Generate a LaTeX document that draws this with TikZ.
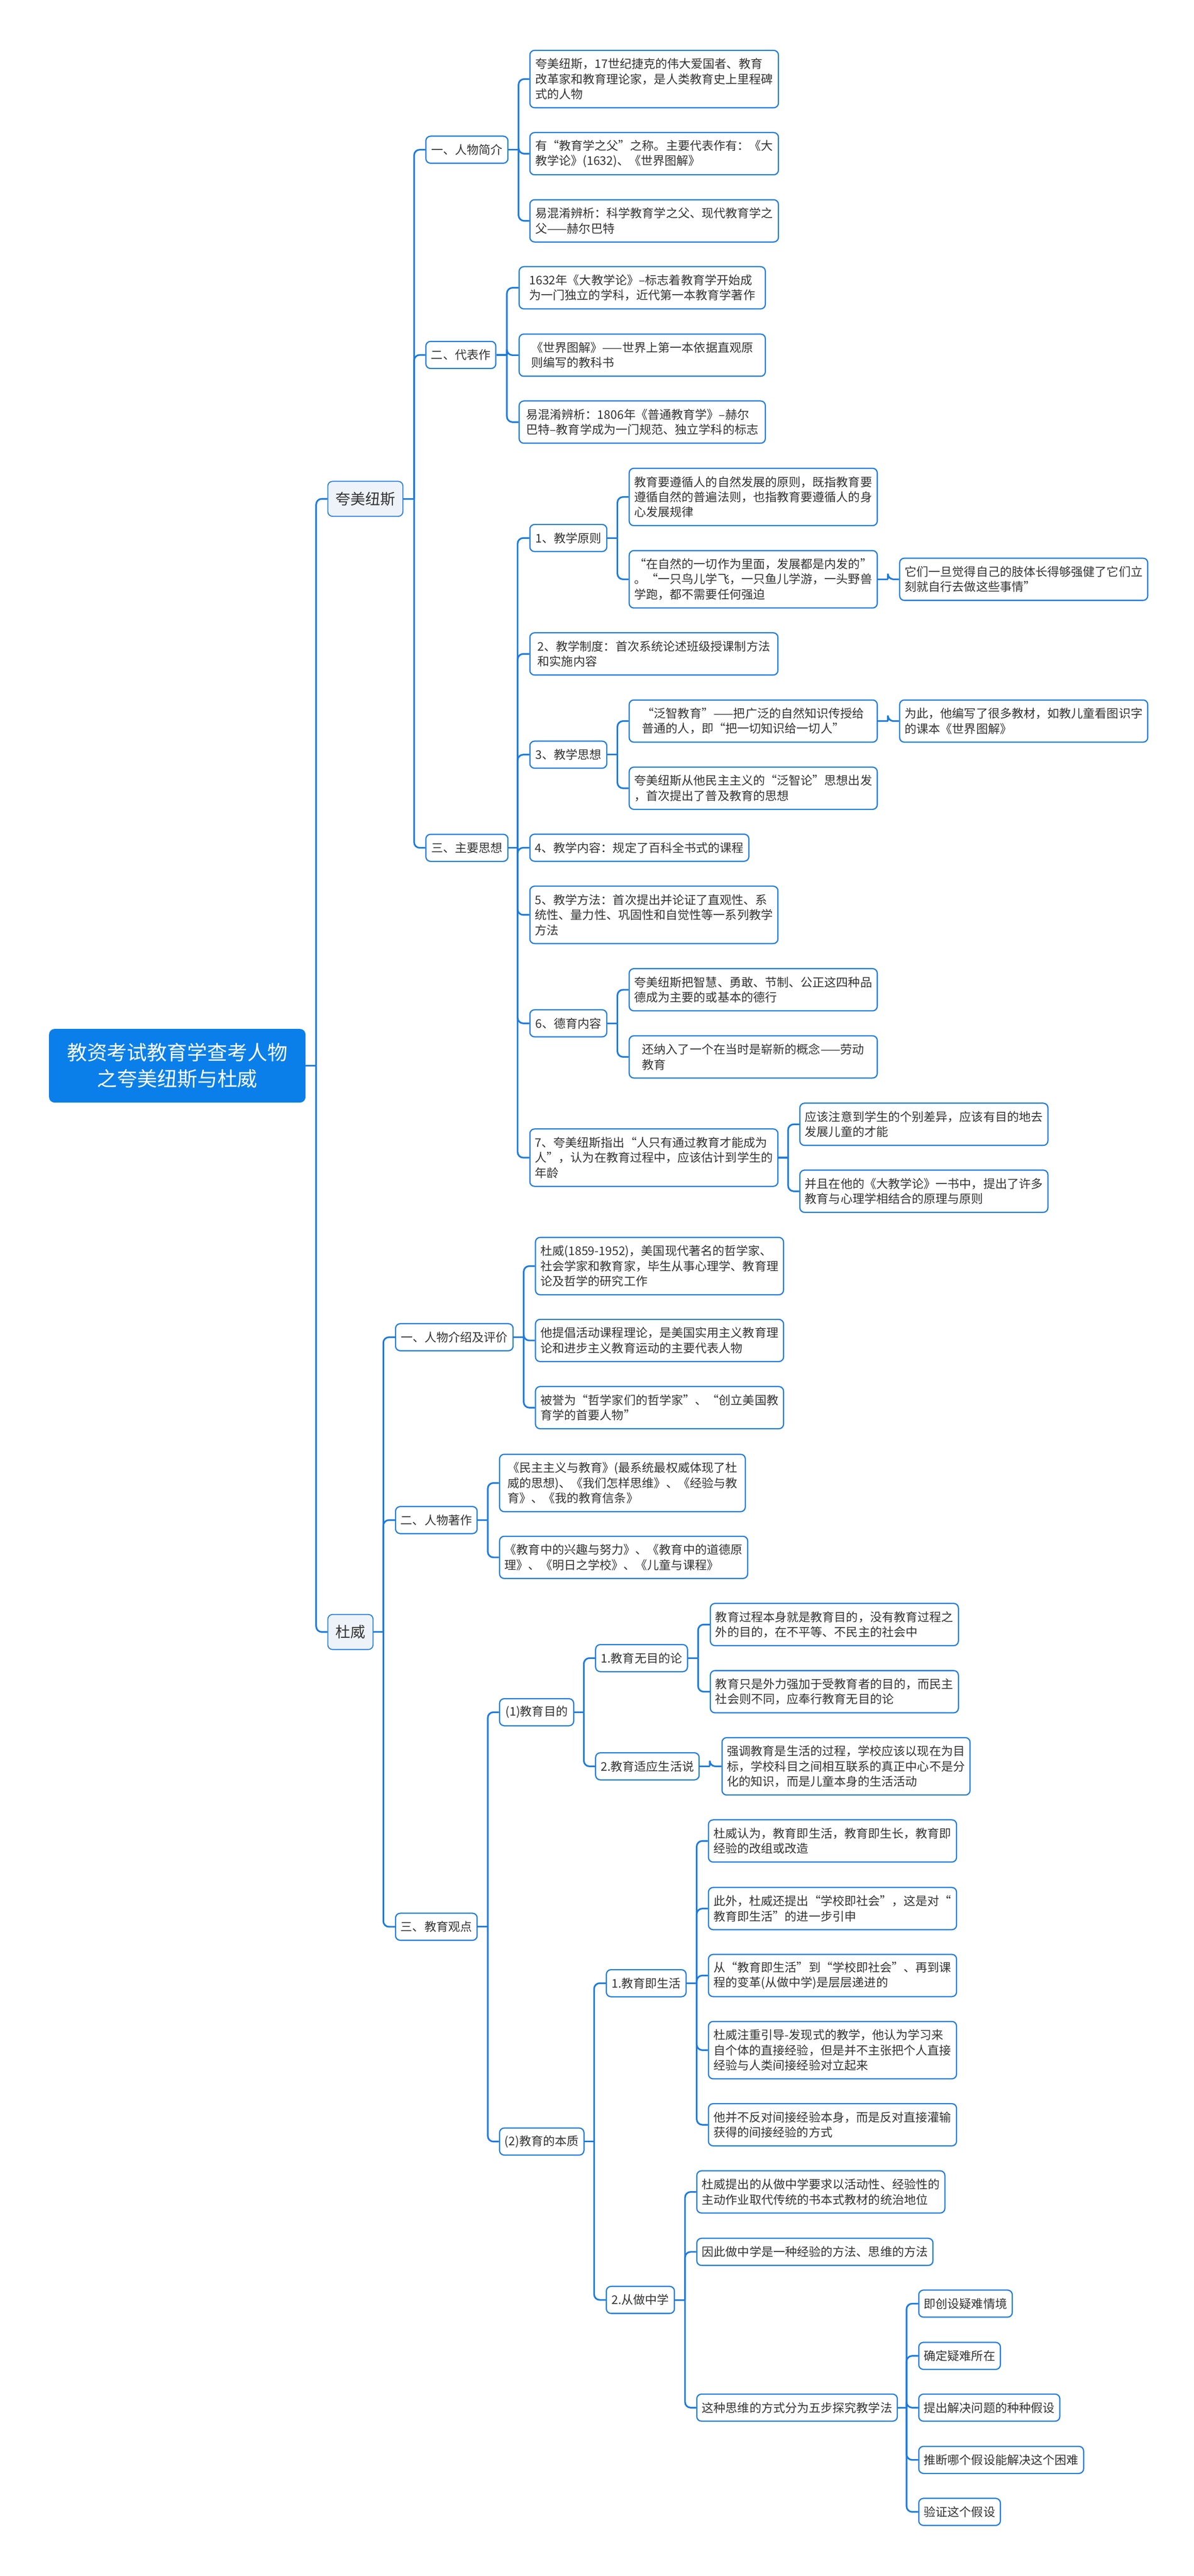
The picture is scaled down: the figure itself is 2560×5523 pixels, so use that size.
\documentclass[tikz,border=0pt]{standalone}
\usepackage{fontspec}
\setmainfont{Noto Sans CJK SC}
\usetikzlibrary{calc}
\definecolor{mblue}{HTML}{1C7BE0}
\definecolor{rootblue}{HTML}{0A7FE9}
\definecolor{lightfill}{HTML}{EEF3F9}
\definecolor{txt}{HTML}{333333}
\newcommand\mmconn[3]{%
  \coordinate (mmv) at (#3,0);
  \draw[conn] (#1.east) -- (#1.east -| mmv);
  \draw[conn,rounded corners=12pt] (#1.east -| mmv) |- (#2.west);}
\begin{document}
\begin{tikzpicture}[x=1pt,y=-1pt,
  box/.style={draw=mblue, line width=2.5pt, rounded corners=10pt, fill=white, align=left,
    inner xsep=11pt, inner ysep=0pt, text=txt, font=\fontsize{25.5pt}{32.5pt}\selectfont, anchor=west},
  h1/.style={minimum height=58pt},
  h2/.style={minimum height=90.5pt},
  h3/.style={minimum height=123pt},
  mainbox/.style={draw=mblue, line width=2pt, rounded corners=10pt, fill=lightfill, text=txt,
    font=\fontsize{32pt}{40pt}\selectfont, minimum height=75pt, inner xsep=14pt, anchor=west},
  rootbox/.style={fill=rootblue, rounded corners=12pt, text=white, align=center,
    font=\fontsize{43pt}{56pt}\selectfont, minimum width=550pt, minimum height=158pt, anchor=west},
  conn/.style={draw=mblue, line width=3.5pt},
]
\useasboundingbox[fill=white] (0,0) rectangle (2560,5523);

% root and main branches
\node[rootbox] (root) at (105,2285) {教资考试教育学查考人物\\之夸美纽斯与杜威};
\node[mainbox, minimum width=161pt] (km) at (702,1069.5) {夸美纽斯};
\node[mainbox, minimum width=97pt] (dw) at (702,3499) {杜威};

% Comenius
\node[box,h1,minimum width=176pt] (k1) at (912,321) {一、人物简介};
\node[box,h3,minimum width=533pt] (k11) at (1135,169.5) {夸美纽斯，17世纪捷克的伟大爱国者、教育\\改革家和教育理论家，是人类教育史上里程碑\\式的人物};
\node[box,h2,minimum width=533pt] (k12) at (1135,329.5) {有“教育学之父”之称。主要代表作有：《大\\教学论》(1632)、《世界图解》};
\node[box,h2,minimum width=533pt] (k13) at (1135,473.5) {易混淆辨析：科学教育学之父、现代教育学之\\父——赫尔巴特};

\node[box,h1,minimum width=150pt] (k2) at (912,761) {二、代表作};
\node[box,h2,minimum width=528pt] (k21) at (1112,617) {1632年《大教学论》--标志着教育学开始成\\为一门独立的学科，近代第一本教育学著作};
\node[box,h2,minimum width=528pt] (k22) at (1112,761.5) {《世界图解》——世界上第一本依据直观原\\则编写的教科书};
\node[box,h2,minimum width=528pt] (k23) at (1112,905) {易混淆辨析：1806年《普通教育学》--赫尔\\巴特--教育学成为一门规范、独立学科的标志};

\node[box,h1,minimum width=176pt] (k3) at (912,1817.75) {三、主要思想};
\node[box,h1,minimum width=165pt] (k31) at (1135,1153.5) {1、教学原则};
\node[box,h3,minimum width=532pt] (k311) at (1348,1065.5) {教育要遵循人的自然发展的原则，既指教育要\\遵循自然的普遍法则，也指教育要遵循人的身\\心发展规律};
\node[box,h3,minimum width=532pt] (k312) at (1348,1242) {“在自然的一切作为里面，发展都是内发的”\\。“一只鸟儿学飞，一只鱼儿学游，一头野兽\\学跑，都不需要任何强迫};
\node[box,h2,minimum width=530pt] (k3121) at (1928,1242) {它们一旦觉得自己的肢体长得够强健了它们立\\刻就自行去做这些事情”};
\node[box,h2,minimum width=532pt] (k32) at (1135,1402) {2、教学制度：首次系统论述班级授课制方法\\和实施内容};
\node[box,h1,minimum width=165pt] (k33) at (1135,1618) {3、教学思想};
\node[box,h2,minimum width=532pt] (k331) at (1348,1546) {“泛智教育”——把广泛的自然知识传授给\\普通的人，即“把一切知识给一切人”};
\node[box,h2,minimum width=530pt] (k3311) at (1928,1546) {为此，他编写了很多教材，如教儿童看图识字\\的课本《世界图解》};
\node[box,h2,minimum width=532pt] (k332) at (1348,1690) {夸美纽斯从他民主主义的“泛智论”思想出发\\，首次提出了普及教育的思想};
\node[box,h1,minimum width=469pt] (k34) at (1135,1817.5) {4、教学内容：规定了百科全书式的课程};
\node[box,h3,minimum width=532pt] (k35) at (1135,1961.5) {5、教学方法：首次提出并论证了直观性、系\\统性、量力性、巩固性和自觉性等一系列教学\\方法};
\node[box,h1,minimum width=165pt] (k36) at (1135,2194) {6、德育内容};
\node[box,h2,minimum width=532pt] (k361) at (1348,2122) {夸美纽斯把智慧、勇敢、节制、公正这四种品\\德成为主要的或基本的德行};
\node[box,h2,minimum width=532pt] (k362) at (1348,2266) {还纳入了一个在当时是崭新的概念——劳动\\教育};
\node[box,h3,minimum width=532pt] (k37) at (1135,2482) {7、夸美纽斯指出“人只有通过教育才能成为\\人”，认为在教育过程中，应该估计到学生的\\年龄};
\node[box,h2,minimum width=532pt] (k371) at (1714,2410.5) {应该注意到学生的个别差异，应该有目的地去\\发展儿童的才能};
\node[box,h2,minimum width=532pt] (k372) at (1714,2554) {并且在他的《大教学论》一书中，提出了许多\\教育与心理学相结合的原理与原则};

% Dewey
\node[box,h1,minimum width=252pt] (d1) at (847,2867) {一、人物介绍及评价};
\node[box,h3,minimum width=530pt] (d11) at (1147,2714.5) {杜威(1859-1952)，美国现代著名的哲学家、\\社会学家和教育家，毕生从事心理学、教育理\\论及哲学的研究工作};
\node[box,h2,minimum width=530pt] (d12) at (1147,2874) {他提倡活动课程理论，是美国实用主义教育理\\论和进步主义教育运动的主要代表人物};
\node[box,h2,minimum width=530pt] (d13) at (1147,3018) {被誉为“哲学家们的哲学家”、“创立美国教\\育学的首要人物”};

\node[box,h1,minimum width=175pt] (d2) at (847,3259) {二、人物著作};
\node[box,h3,minimum width=527pt] (d21) at (1070,3179.5) {《民主主义与教育》(最系统最权威体现了杜\\威的思想)、《我们怎样思维》、《经验与教\\育》、《我的教育信条》};
\node[box,h2,minimum width=527pt] (d22) at (1070,3339) {《教育中的兴趣与努力》、《教育中的道德原\\理》、《明日之学校》、《儿童与课程》};

\node[box,h1,minimum width=175pt] (d3) at (847,4131) {三、教育观点};
\node[box,h1,minimum width=159pt] (d31) at (1070,3671) {(1)教育目的};
\node[box,h1,minimum width=197pt] (d311) at (1276,3555) {1.教育无目的论};
\node[box,h2,minimum width=530pt] (d3111) at (1522,3483) {教育过程本身就是教育目的，没有教育过程之\\外的目的，在不平等、不民主的社会中};
\node[box,h2,minimum width=530pt] (d3112) at (1522,3627) {教育只是外力强加于受教育者的目的，而民主\\社会则不同，应奉行教育无目的论};
\node[box,h1,minimum width=222pt] (d312) at (1276,3787) {2.教育适应生活说};
\node[box,h3,minimum width=531pt] (d3121) at (1547,3787) {强调教育是生活的过程，学校应该以现在为目\\标，学校科目之间相互联系的真正中心不是分\\化的知识，而是儿童本身的生活活动};

\node[box,h1,minimum width=181pt] (d32) at (1070,4591.5) {(2)教育的本质};
\node[box,h1,minimum width=171pt] (d321) at (1299,4252) {1.教育即生活};
\node[box,h2,minimum width=527pt] (d3211) at (1518,3947) {杜威认为，教育即生活，教育即生长，教育即\\经验的改组或改造};
\node[box,h2,minimum width=527pt] (d3212) at (1518,4092) {此外，杜威还提出“学校即社会”，这是对“\\教育即生活”的进一步引申};
\node[box,h2,minimum width=527pt] (d3213) at (1518,4235.5) {从“教育即生活”到“学校即社会”、再到课\\程的变革(从做中学)是层层递进的};
\node[box,h3,minimum width=527pt] (d3214) at (1518,4395.5) {杜威注重引导-发现式的教学，他认为学习来\\自个体的直接经验，但是并不主张把个人直接\\经验与人类间接经验对立起来};
\node[box,h2,minimum width=527pt] (d3215) at (1518,4555.5) {他并不反对间接经验本身，而是反对直接灌输\\获得的间接经验的方式};
\node[box,h1,minimum width=146pt] (d322) at (1299,4931) {2.从做中学};
\node[box,h2,minimum width=528pt] (d3221) at (1493,4699.5) {杜威提出的从做中学要求以活动性、经验性的\\主动作业取代传统的书本式教材的统治地位};
\node[box,h1,minimum width=503pt] (d3222) at (1493,4828) {因此做中学是一种经验的方法、思维的方法};
\node[box,h1,minimum width=427pt] (d3223) at (1493,5162) {这种思维的方式分为五步探究教学法};
\node[box,h1,minimum width=199pt] (s1) at (1969,4939) {即创设疑难情境};
\node[box,h1,minimum width=174pt] (s2) at (1969,5051) {确定疑难所在};
\node[box,h1,minimum width=299pt] (s3) at (1969,5162) {提出解决问题的种种假设};
\node[box,h1,minimum width=351pt] (s4) at (1969,5274) {推断哪个假设能解决这个困难};
\node[box,h1,minimum width=174pt] (s5) at (1969,5385.5) {验证这个假设};

% connectors
\mmconn{root}{km}{678} \mmconn{root}{dw}{678}
\mmconn{km}{k1}{888} \mmconn{km}{k2}{888} \mmconn{km}{k3}{888}
\mmconn{k1}{k11}{1112} \mmconn{k1}{k12}{1112} \mmconn{k1}{k13}{1112}
\mmconn{k2}{k21}{1087} \mmconn{k2}{k22}{1087} \mmconn{k2}{k23}{1087}
\mmconn{k3}{k31}{1110} \mmconn{k3}{k32}{1110} \mmconn{k3}{k33}{1110} \mmconn{k3}{k34}{1110}
\mmconn{k3}{k35}{1110} \mmconn{k3}{k36}{1110} \mmconn{k3}{k37}{1110}
\mmconn{k31}{k311}{1324} \mmconn{k31}{k312}{1324}
\mmconn{k312}{k3121}{1904}
\mmconn{k33}{k331}{1324} \mmconn{k33}{k332}{1324}
\mmconn{k331}{k3311}{1904}
\mmconn{k36}{k361}{1324} \mmconn{k36}{k362}{1324}
\mmconn{k37}{k371}{1690} \mmconn{k37}{k372}{1690}
\mmconn{dw}{d1}{822} \mmconn{dw}{d2}{822} \mmconn{dw}{d3}{822}
\mmconn{d1}{d11}{1123} \mmconn{d1}{d12}{1123} \mmconn{d1}{d13}{1123}
\mmconn{d2}{d21}{1046} \mmconn{d2}{d22}{1046}
\mmconn{d3}{d31}{1046} \mmconn{d3}{d32}{1046}
\mmconn{d31}{d311}{1252} \mmconn{d31}{d312}{1252}
\mmconn{d311}{d3111}{1497} \mmconn{d311}{d3112}{1497}
\mmconn{d312}{d3121}{1522}
\mmconn{d32}{d321}{1274} \mmconn{d32}{d322}{1274}
\mmconn{d321}{d3211}{1494} \mmconn{d321}{d3212}{1494} \mmconn{d321}{d3213}{1494}
\mmconn{d321}{d3214}{1494} \mmconn{d321}{d3215}{1494}
\mmconn{d322}{d3221}{1469} \mmconn{d322}{d3222}{1469} \mmconn{d322}{d3223}{1469}
\mmconn{d3223}{s1}{1944} \mmconn{d3223}{s2}{1944} \mmconn{d3223}{s3}{1944}
\mmconn{d3223}{s4}{1944} \mmconn{d3223}{s5}{1944}
\end{tikzpicture}
\end{document}
